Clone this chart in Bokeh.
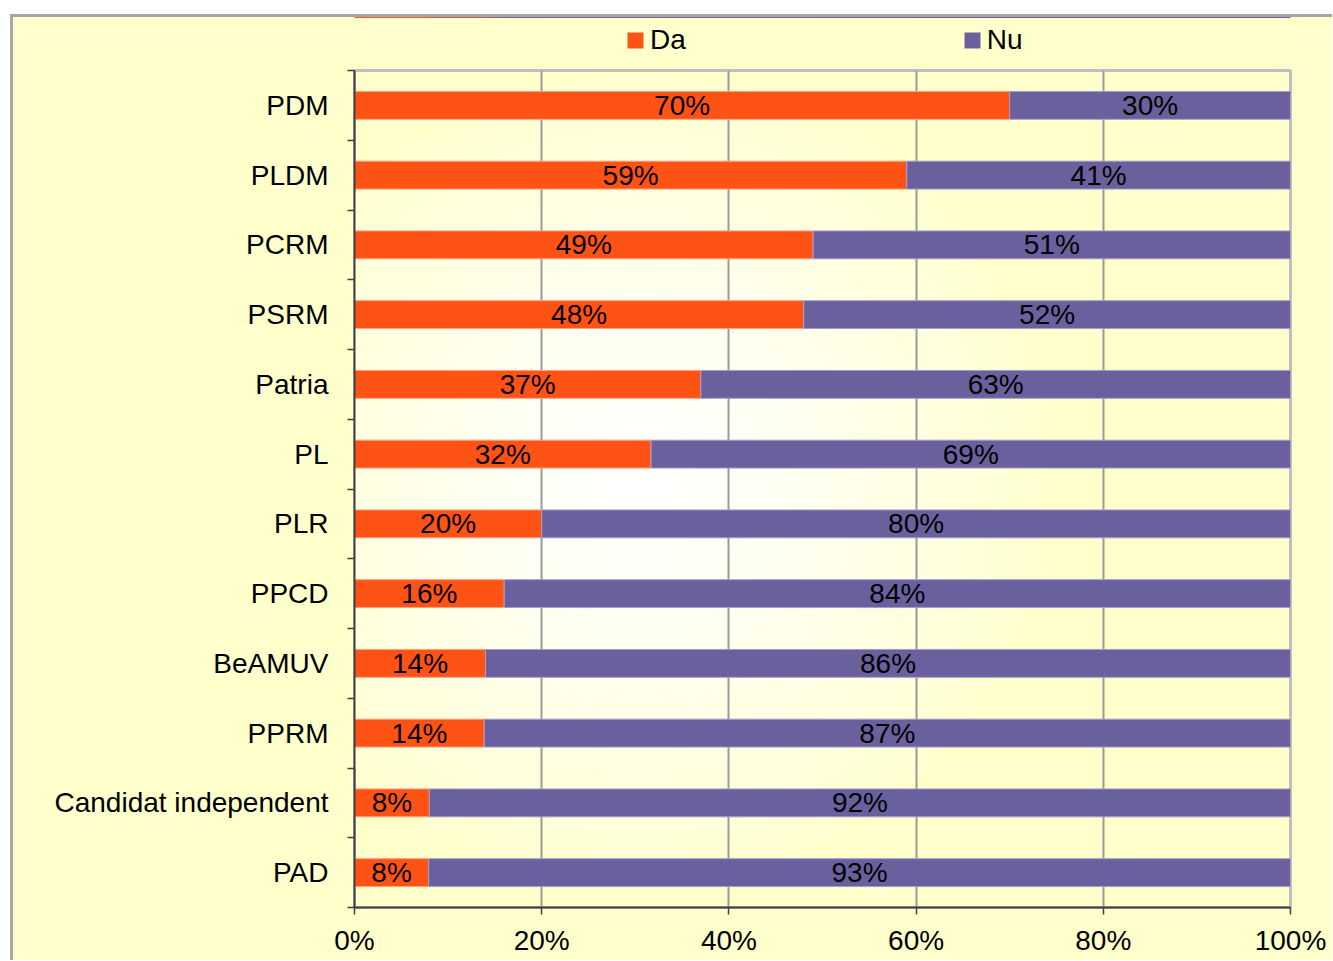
import numpy as np
from bokeh.plotting import figure
from bokeh.layouts import column
from bokeh.models import (ColumnDataSource, Range1d, FixedTicker, LinearAxis,
                          PrintfTickFormatter, Legend, LegendItem)
from bokeh.core.properties import value
from bokeh.embed import file_html
from bokeh.resources import INLINE

# ---- data ----
categories = ["PDM", "PLDM", "PCRM", "PSRM", "Patria", "PL", "PLR", "PPCD",
              "BeAMUV", "PPRM", "Candidat independent", "PAD"]
da = [70, 59, 49, 48, 37, 32, 20, 16, 14, 14, 8, 8]
nu = [30, 41, 51, 52, 63, 69, 80, 84, 86, 87, 92, 93]
series_names = ["Da", "Nu"]
x_ticks = [0, 20, 40, 60, 80, 100]

FONT = "Liberation Sans"
DA_COLOR = "#FF5315"
NU_COLOR = "#6B609E"
BG = "#FFFFCC"

n = len(categories)
ypos = [n - i - 0.5 for i in range(n)]
da_arr = np.array(da, dtype=float)
nu_arr = np.array(nu, dtype=float)
tot = da_arr + nu_arr
da_s = 100.0 * da_arr / tot
src = ColumnDataSource(dict(
    y=ypos,
    da_s=da_s,
    end=np.full(n, 100.0),
    da_c=da_s / 2.0,
    nu_c=(da_s + 100.0) / 2.0,
    da_lbl=[f"{v}%" for v in da],
    nu_lbl=[f"{v}%" for v in nu],
))

W, H = 1319, 943
LH = 51                      # legend strip height
FW, FH = 936, 837
TOP, LEFT = 2, 341
H2 = H - LH

# ---------------- legend strip (its own ranges show none of the bars) ----------------
pl = figure(width=W, height=LH, output_backend="svg", toolbar_location=None,
            x_range=Range1d(0, 100), y_range=Range1d(-3, -2),
            x_axis_location=None, y_axis_location=None,
            min_border_left=0, min_border_right=0, min_border_top=0,
            min_border_bottom=0)
pl.border_fill_color = BG
pl.background_fill_color = None
pl.outline_line_color = None
pl.outline_line_alpha = 0
pl.xgrid.visible = False
pl.ygrid.visible = False
l_da = pl.hbar(y="y", left=0, right="da_s", height=0.4, source=src,
               fill_color=DA_COLOR, line_color=None)
l_nu = pl.hbar(y="y", left="da_s", right="end", height=0.4, source=src,
               fill_color=NU_COLOR, line_color=None)
legend = Legend(items=[LegendItem(label=series_names[0], renderers=[l_da]),
                       LegendItem(label=series_names[1], renderers=[l_nu])],
                orientation="horizontal", location=(271, 12),
                glyph_width=20, glyph_height=20, label_standoff=5,
                label_height=32, spacing=276, margin=0, padding=0,
                border_line_alpha=0, background_fill_alpha=0,
                label_text_font=FONT, label_text_font_size="28px",
                label_text_color="black")
pl.add_layout(legend, "center")

# ---------------- main chart ----------------
p = figure(width=W, height=H2, output_backend="svg", toolbar_location=None,
           x_range=Range1d(0, 100), y_range=Range1d(0, n),
           x_axis_location=None, y_axis_location=None,
           min_border_left=LEFT, min_border_top=TOP,
           min_border_right=W - LEFT - FW, min_border_bottom=H2 - TOP - FH)
p.border_fill_color = BG
p.background_fill_color = BG
p.outline_line_color = "#BFBFBF"
p.outline_line_width = 3

# decorative radial gradient of the plot area (concentric discs, clipped to frame)
cx = 286.0 / FW * 100.0
cy = n - 410.0 / FH * n
radii = np.linspace(405, 10, 40)
tt = np.clip(radii / 440.0, 0, 1) ** 1.3
cols = ["#FFFF%02X" % int(round(255 - 51 * v)) for v in tt]
p.scatter(x=[cx] * len(radii), y=[cy] * len(radii), size=list(2 * radii),
          fill_color=cols, line_color=None, level="underlay")

p.xgrid.ticker = FixedTicker(ticks=x_ticks)
p.xgrid.grid_line_color = "#9A9A9A"
p.xgrid.grid_line_width = 2
p.xgrid.level = "underlay"
p.ygrid.visible = False

p.hbar(y="y", left=0, right="da_s", height=0.4, source=src,
       fill_color=DA_COLOR, line_color="#FF9F80", line_width=1)
p.hbar(y="y", left="da_s", right="end", height=0.4, source=src,
       fill_color=NU_COLOR, line_color="#A49CCB", line_width=1)

lbl_kw = dict(text_align="center", text_baseline="middle",
              text_font=value(FONT), text_font_size="28px", text_color="black")
p.text(x="da_c", y="y", text="da_lbl", source=src, **lbl_kw)
p.text(x="nu_c", y="y", text="nu_lbl", source=src, **lbl_kw)

AX = "#404040"
xaxis = LinearAxis(ticker=FixedTicker(ticks=x_ticks),
                   formatter=PrintfTickFormatter(format="%d%%"))
xaxis.axis_line_color = AX
xaxis.axis_line_width = 2
xaxis.major_tick_line_color = AX
xaxis.major_tick_line_width = 1.5
xaxis.major_tick_in = 0
xaxis.major_tick_out = 7
xaxis.minor_tick_line_color = None
xaxis.major_label_standoff = 10
xaxis.major_label_text_font = FONT
xaxis.major_label_text_font_size = "28px"
xaxis.major_label_text_color = "black"
p.add_layout(xaxis, "below")

yaxis = LinearAxis(ticker=FixedTicker(ticks=ypos, minor_ticks=list(range(n + 1))))
yaxis.major_label_overrides = {y: c for y, c in zip(ypos, categories)}
yaxis.axis_line_color = AX
yaxis.axis_line_width = 2
yaxis.major_tick_line_color = None
yaxis.major_tick_in = 0
yaxis.major_tick_out = 0
yaxis.minor_tick_line_color = AX
yaxis.minor_tick_line_width = 1.5
yaxis.minor_tick_in = 0
yaxis.minor_tick_out = 7
yaxis.major_label_standoff = 19
yaxis.major_label_text_font = FONT
yaxis.major_label_text_font_size = "28px"
yaxis.major_label_text_color = "black"
p.add_layout(yaxis, "left")

layout = column(pl, p, spacing=0)
layout.margin = (14, 0, 0, 10)
layout.styles = {"border-top": "3px solid #A6A6A6",
                 "border-left": "3px solid #A6A6A6",
                 "background-color": BG}

open("out.html", "w").write(file_html(layout, INLINE))
